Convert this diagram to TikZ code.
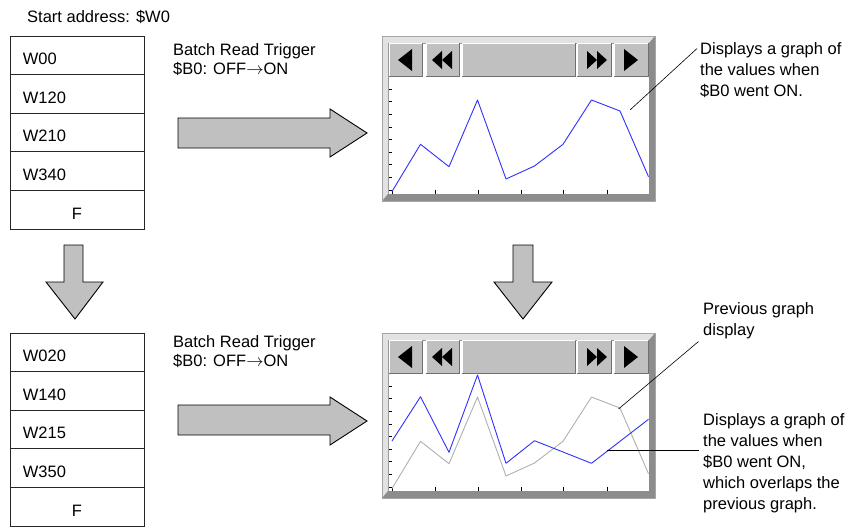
\documentclass[tikz,border=0pt]{standalone}
\usepackage{fontspec}
\setmainfont{Liberation Sans}
\definecolor{arrowgray}{HTML}{C0C0C0}
\definecolor{btngray}{HTML}{C0C0C0}
\definecolor{btndark}{HTML}{707070}
\definecolor{panellight}{HTML}{E2E2E2}
\definecolor{paneldark}{HTML}{8C8C8C}
\definecolor{graphblue}{HTML}{3030FF}
\definecolor{graphgray}{HTML}{B0B0B0}
\newcommand{\rkBtn}[2]{%
  \fill[btngray] (#1,43) rectangle (#2,77);
  \draw[white, line width=1pt] (#1,76.5) -- (#1,43.5) -- (#2,43.5);
  \draw[btndark, line width=1pt] (#1,76.5) -- (#2,76.5) -- (#2,43.5);
}
\newcommand{\rkPanel}{%
  \fill[panellight] (382,36) rectangle (655,201);
  \fill[paneldark] (655,36) -- (655,201) -- (382,201) -- (388,194) -- (649,194) -- (649,43) -- cycle;
  \draw[black!35, line width=0.5pt] (382,36) rectangle (655,201);
  \fill[white] (388,43) rectangle (649,194);
  \draw[black!40, line width=0.5pt] (388,194) -- (388,43) -- (649,43);
  \foreach \ty in {89,101.6,114.2,126.8,139.4,152,164.6,177.2,189.8} \draw[tick] (389,\ty) -- (392,\ty);
  \foreach \tx in {392,435,478,521,563,607} \draw[tick] (\tx,189.5) -- (\tx,193.5);
}
\newcommand{\rkButtons}{%
  \rkBtn{389}{422}\rkBtn{426}{459}\rkBtn{462}{575}\rkBtn{577}{611}\rkBtn{614}{648}
  \fill[black] (398,60) -- (412,49) -- (412,71) -- cycle;
  \fill[black] (432,60) -- (442,51) -- (442,69) -- cycle;
  \fill[black] (442,60) -- (452,51) -- (452,69) -- cycle;
  \fill[black] (607,60) -- (597,51) -- (597,69) -- cycle;
  \fill[black] (597,60) -- (587,51) -- (587,69) -- cycle;
  \fill[black] (638,60) -- (624,49) -- (624,71) -- cycle;
}
\begin{document}
\begin{tikzpicture}[x=1pt,y=-1pt,
  txt/.style={font=\fontsize{16.5}{21}\selectfont, inner sep=0pt, align=left},
  trigtxt/.style={font=\fontsize{16.5}{19.5}\selectfont, inner sep=0pt, align=left},
  cell/.style={draw=black!85, line width=0.7pt, minimum width=134pt, minimum height=38.6pt, inner sep=0pt},
  bigarrow/.style={draw=black, line width=0.9pt, fill=arrowgray, line join=miter},
  annot/.style={draw=black, line width=0.6pt},
  tick/.style={draw=black, line width=0.6pt},
  blueline/.style={draw=graphblue, line width=0.9pt, line join=round},
  grayline/.style={draw=graphgray, line width=0.9pt, line join=round}]
\useasboundingbox (0,0) rectangle (850,527);

% ---------- start address ----------
\node[txt, anchor=base west] (start) at (27,22.5) {Start address: \$W0};

% ---------- top table ----------
\node[cell] (a1) at (77,55.3) {};
\node[cell] (a2) at (77,93.9) {};
\node[cell] (a3) at (77,132.5) {};
\node[cell] (a4) at (77,171.1) {};
\node[cell] (a5) at (77,209.7) {};
\node[txt, anchor=base west] (la1) at ([xshift=13pt,yshift=-9.4pt]a1.west) {W00};
\node[txt, anchor=base west] (la2) at ([xshift=13pt,yshift=-9.4pt]a2.west) {W120};
\node[txt, anchor=base west] (la3) at ([xshift=13pt,yshift=-9.4pt]a3.west) {W210};
\node[txt, anchor=base west] (la4) at ([xshift=13pt,yshift=-9.4pt]a4.west) {W340};
\node[txt, anchor=base] (la5) at ([yshift=-9.4pt]a5.center) {F};

% ---------- bottom table ----------
\node[cell] (b1) at (77,352.3) {};
\node[cell] (b2) at (77,390.9) {};
\node[cell] (b3) at (77,429.5) {};
\node[cell] (b4) at (77,468.1) {};
\node[cell] (b5) at (77,506.7) {};
\node[txt, anchor=base west] (lb1) at ([xshift=13pt,yshift=-9.4pt]b1.west) {W020};
\node[txt, anchor=base west] (lb2) at ([xshift=13pt,yshift=-9.4pt]b2.west) {W140};
\node[txt, anchor=base west] (lb3) at ([xshift=13pt,yshift=-9.4pt]b3.west) {W215};
\node[txt, anchor=base west] (lb4) at ([xshift=13pt,yshift=-9.4pt]b4.west) {W350};
\node[txt, anchor=base] (lb5) at ([yshift=-9.4pt]b5.center) {F};

% ---------- big arrows ----------
\draw[bigarrow] (178,118) -- (330,118) -- (330,109) -- (367,133) -- (330,157) -- (330,148) -- (178,148) -- cycle;
\draw[bigarrow] (178,405) -- (330,405) -- (330,397) -- (367,421) -- (330,445) -- (330,435) -- (178,435) -- cycle;
\draw[bigarrow] (64,245) -- (83,245) -- (83,282) -- (103,282) -- (75,319) -- (46,282) -- (64,282) -- cycle;
\draw[bigarrow] (513,245) -- (533,245) -- (533,282) -- (552,282) -- (523,319) -- (494,282) -- (513,282) -- cycle;

% ---------- trigger labels ----------
\node[trigtxt, anchor=north west] (trig1) at (173,43) {Batch Read Trigger\\\$B0: OFF$\rightarrow$ON};
\node[trigtxt, anchor=north west] (trig2) at (173,335) {Batch Read Trigger\\\$B0: OFF$\rightarrow$ON};

% ---------- top panel ----------
\rkPanel
\draw[blueline] (392,191.5) -- (420.5,144.3) -- (449,166.7) -- (477.5,100) -- (506,179) -- (534.5,166) -- (563,144.3) -- (591.5,100) -- (620,111) -- (648.5,176.7);
\rkButtons

% ---------- bottom panel ----------
\begin{scope}[shift={(0,297)}]
\rkPanel
\draw[grayline] (392,191.5) -- (420.5,144.3) -- (449,166.7) -- (477.5,100) -- (506,179) -- (534.5,166) -- (563,144.3) -- (591.5,100) -- (620,111) -- (648.5,176.7);
\draw[blueline] (392,144) -- (420.5,99.7) -- (449,155.3) -- (477.5,78) -- (506,166.3) -- (534.5,143.7) -- (591.5,166.3) -- (648.5,122.3);
\rkButtons
\end{scope}

% ---------- annotations ----------
\node[txt, anchor=north west] (note1) at (700,42) {Displays a graph of\\the values when\\\$B0 went ON.};
\node[txt, anchor=north west] (note2) at (703,302) {Previous graph\\display};
\node[txt, anchor=north west] (note3) at (703,413) {Displays a graph of\\the values when\\\$B0 went ON,\\which overlaps the\\previous graph.};

\coordinate (p1) at (630,110);
\coordinate (q1) at (697,48.5);
\coordinate (p2) at (618.5,409);
\coordinate (q2) at (698.5,341.5);
\coordinate (p3) at (606.5,450);
\coordinate (q3) at (698.5,450);
\draw[annot] (p1) -- (q1);
\draw[annot] (p2) -- (q2);
\draw[annot] (p3) -- (q3);
\end{tikzpicture}
\end{document}
